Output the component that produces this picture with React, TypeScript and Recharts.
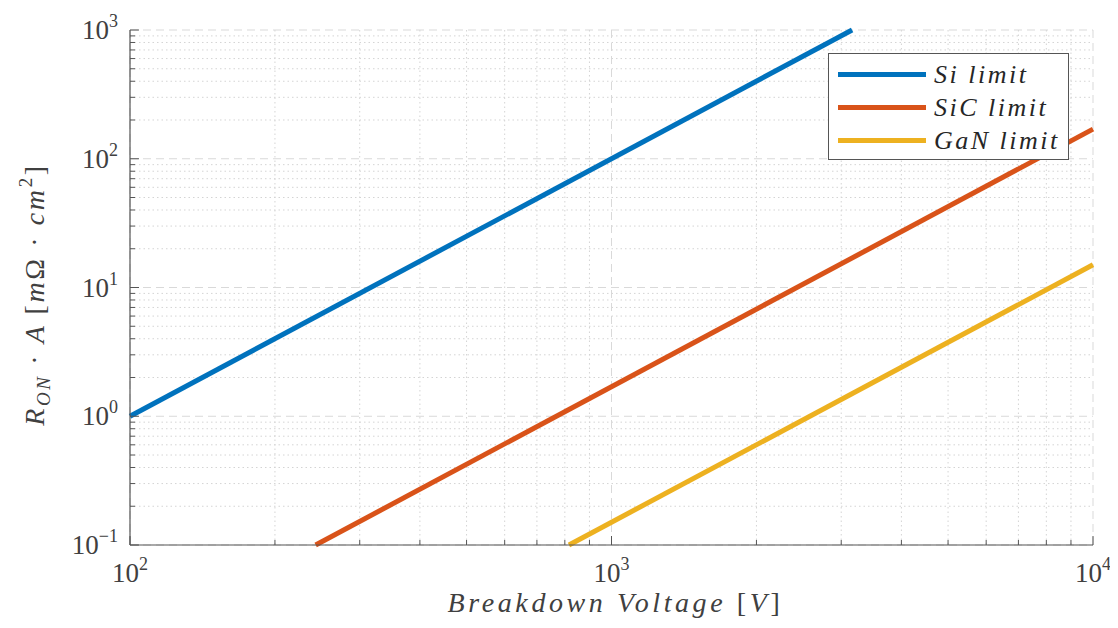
import React from 'react';
import { LineChart, Line, XAxis, YAxis, CartesianGrid, Legend } from 'recharts';

// breakdown voltage [V] vs specific on-resistance [mOhm*cm2], read at the ends of each line
const siLimit = [
  { v: 100, r: 1 },
  { v: 3160, r: 1000 },
];
const sicLimit = [
  { v: 243, r: 0.1 },
  { v: 10000, r: 170 },
];
const ganLimit = [
  { v: 816, r: 0.1 },
  { v: 10000, r: 15 },
];

const xMajor = [100, 1000, 10000];
const xMinor = [200, 300, 400, 500, 600, 700, 800, 900, 2000, 3000, 4000, 5000, 6000, 7000, 8000, 9000];
const yMajor = [0.1, 1, 10, 100, 1000];
const yMinor = [
  0.2, 0.3, 0.4, 0.5, 0.6, 0.7, 0.8, 0.9,
  2, 3, 4, 5, 6, 7, 8, 9,
  20, 30, 40, 50, 60, 70, 80, 90,
  200, 300, 400, 500, 600, 700, 800, 900,
];
const xExp: Record<number, string> = { 100: '2', 1000: '3', 10000: '4' };
const yExp: Record<number, string> = { 0.1: '\u22121', 1: '0', 10: '1', 100: '2', 1000: '3' };

const seriesInfo = [
  { name: 'Si limit', color: '#0072BD' },
  { name: 'SiC limit', color: '#D95319' },
  { name: 'GaN limit', color: '#EDB120' },
];

const FONT = '"Liberation Serif", "DejaVu Serif", serif';
const AXIS = '#555555';
const TEXT = '#404040';
const xTicks = [...xMajor, ...xMinor];
const yTicks = [...yMajor, ...yMinor];

const isMajor = (list: number[], v: number) => list.some((m) => Math.abs(m - v) < 1e-9);

const BottomTick = (props: any) => {
  const { x, y, payload } = props;
  const major = isMajor(xMajor, payload.value);
  const len = major ? 9 : 5;
  return (
    <g>
      <line x1={x} y1={y} x2={x} y2={y - len} stroke={AXIS} strokeWidth={1} />
      {major && (
        <text x={x} y={y + 37} textAnchor="middle" fill={TEXT} fontFamily={FONT} fontSize={27}>
          10
          <tspan fontSize={18} dy={-12}>{xExp[payload.value]}</tspan>
        </text>
      )}
    </g>
  );
};

const TopTick = (props: any) => {
  const { x, y, payload } = props;
  const len = isMajor(xMajor, payload.value) ? 9 : 5;
  return <line x1={x} y1={y} x2={x} y2={y + len} stroke={AXIS} strokeWidth={1} />;
};

const LeftTick = (props: any) => {
  const { x, y, payload } = props;
  const major = isMajor(yMajor, payload.value);
  const len = major ? 9 : 5;
  return (
    <g>
      <line x1={x} y1={y} x2={x + len} y2={y} stroke={AXIS} strokeWidth={1} />
      {major && (
        <text x={x - 12} y={y + 9} textAnchor="end" fill={TEXT} fontFamily={FONT} fontSize={27}>
          10
          <tspan fontSize={18} dy={-12}>{yExp[payload.value]}</tspan>
        </text>
      )}
    </g>
  );
};

const RightTick = (props: any) => {
  const { x, y, payload } = props;
  const len = isMajor(yMajor, payload.value) ? 9 : 5;
  return <line x1={x} y1={y} x2={x - len} y2={y} stroke={AXIS} strokeWidth={1} />;
};

const XTitle = (props: any) => {
  const vb = props.viewBox || { x: 122, y: 537, width: 963, height: 83 };
  return (
    <text
      x={vb.x + vb.width / 2 + 4}
      y={vb.y + 67}
      textAnchor="middle"
      fill={TEXT}
      fontFamily={FONT}
      fontSize={28}
      letterSpacing={3.6}
    >
      <tspan fontStyle="italic">Breakdown Voltage </tspan>
      <tspan>[</tspan>
      <tspan fontStyle="italic">V</tspan>
      <tspan>]</tspan>
    </text>
  );
};

const YTitle = (props: any) => {
  const vb = props.viewBox || { x: 0, y: 22, width: 122, height: 515 };
  const cx = 36;
  const cy = vb.y + vb.height / 2 + 7;
  return (
    <text
      x={cx}
      y={cy}
      transform={`rotate(-90 ${cx} ${cy})`}
      textAnchor="middle"
      fill={TEXT}
      fontFamily={FONT}
      fontSize={28}
      letterSpacing={2.6}
    >
      <tspan fontStyle="italic">R</tspan>
      <tspan fontStyle="italic" fontSize={19} dy={6}>ON</tspan>
      <tspan dy={-6}> · </tspan>
      <tspan fontStyle="italic">A </tspan>
      <tspan>[</tspan>
      <tspan fontStyle="italic">m</tspan>
      <tspan>Ω · </tspan>
      <tspan fontStyle="italic">cm</tspan>
      <tspan fontSize={19} dy={-12}>2</tspan>
      <tspan dy={12}>]</tspan>
    </text>
  );
};

const LegendBox = () => (
  <div
    style={{
      width: 241,
      height: 107,
      border: `1px solid ${AXIS}`,
      background: '#fff',
      boxSizing: 'border-box',
      paddingTop: 4,
    }}
  >
    {seriesInfo.map((s) => (
      <div key={s.name} style={{ display: 'flex', alignItems: 'center', height: 33 }}>
        <div style={{ width: 88, height: 5, background: s.color, marginLeft: 9, marginRight: 8 }} />
        <span
          style={{
            fontFamily: FONT,
            fontStyle: 'italic',
            fontSize: 26,
            letterSpacing: 2.5,
            color: '#262626',
            lineHeight: '33px',
          }}
        >
          {s.name}
        </span>
      </div>
    ))}
  </div>
);

export default function App() {
  return (
    <div style={{ width: 1110, height: 620, background: '#fff' }}>
      <LineChart width={1110} height={620} margin={{ top: 22, right: 25, left: 0, bottom: 0 }}>
        <CartesianGrid
          verticalValues={xMinor}
          horizontalValues={yMinor}
          stroke="#d4d4d4"
          strokeDasharray="1.5 3"
          strokeWidth={1}
        />
        <CartesianGrid
          verticalValues={xMajor}
          horizontalValues={yMajor}
          stroke="#d9d9d9"
          strokeDasharray="8 5"
          strokeWidth={1}
        />
        <XAxis
          dataKey="v"
          type="number"
          scale="log"
          domain={[100, 10000]}
          ticks={xTicks}
          interval={0}
          tickSize={0}
          tickMargin={0}
          tickLine={false}
          tick={<BottomTick />}
          axisLine={{ stroke: AXIS, strokeWidth: 1.2 }}
          height={83}
          label={<XTitle />}
        />
        <XAxis
          xAxisId="top"
          orientation="top"
          type="number"
          scale="log"
          domain={[100, 10000]}
          ticks={xTicks}
          interval={0}
          tickSize={0}
          tickMargin={0}
          tickLine={false}
          tick={<TopTick />}
          axisLine={{ stroke: AXIS, strokeWidth: 1.2 }}
          height={0}
        />
        <YAxis
          type="number"
          scale="log"
          domain={[0.1, 1000]}
          ticks={yTicks}
          interval={0}
          tickSize={0}
          tickMargin={0}
          tickLine={false}
          tick={<LeftTick />}
          axisLine={{ stroke: AXIS, strokeWidth: 1.2 }}
          width={122}
          label={<YTitle />}
        />
        <YAxis
          yAxisId="right"
          orientation="right"
          type="number"
          scale="log"
          domain={[0.1, 1000]}
          ticks={yTicks}
          interval={0}
          tickSize={0}
          tickMargin={0}
          tickLine={false}
          tick={<RightTick />}
          axisLine={{ stroke: AXIS, strokeWidth: 1.2 }}
          width={0}
        />
        <Line data={siLimit} dataKey="r" name="Si limit" stroke="#0072BD" strokeWidth={5} dot={false} isAnimationActive={false} />
        <Line data={sicLimit} dataKey="r" name="SiC limit" stroke="#D95319" strokeWidth={5} dot={false} isAnimationActive={false} />
        <Line data={ganLimit} dataKey="r" name="GaN limit" stroke="#EDB120" strokeWidth={5} dot={false} isAnimationActive={false} />
        <Legend
          content={<LegendBox />}
          layout="vertical"
          align="center"
          verticalAlign="middle"
          wrapperStyle={{ left: 820, top: 45, width: 241, height: 107 }}
        />
      </LineChart>
    </div>
  );
}
